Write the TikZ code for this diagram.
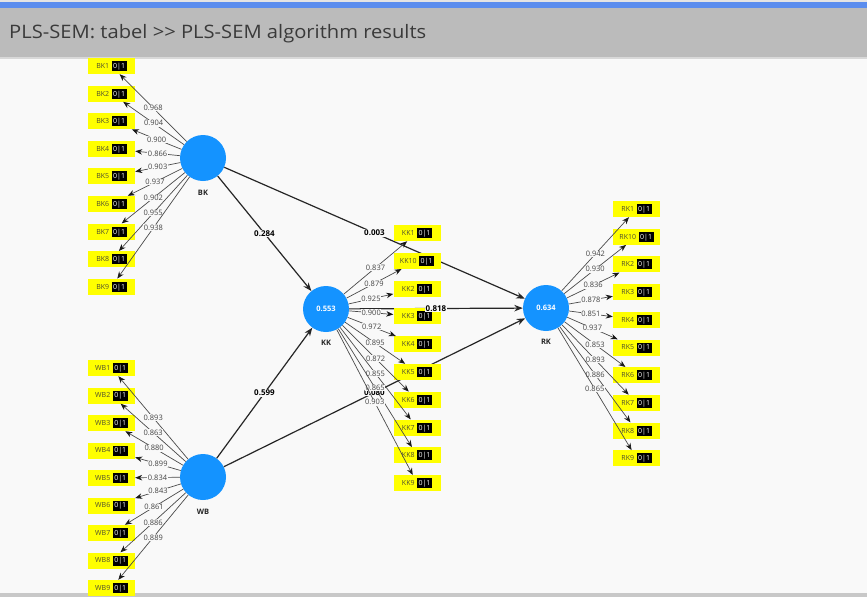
\documentclass[tikz,border=0pt]{standalone}
\usepackage{fontspec}
\setmainfont{Open Sans}
\usetikzlibrary{arrows.meta}

\definecolor{bodybg}{HTML}{F9F9F9}
\definecolor{topstrip}{HTML}{E4E4E4}
\definecolor{bluebar}{HTML}{5B8DEE}
\definecolor{headbg}{HTML}{BBBBBB}
\definecolor{headline}{HTML}{D8D8D8}
\definecolor{footbg}{HTML}{C8C8C8}
\definecolor{titletext}{HTML}{3A3A3A}
\definecolor{lvblue}{HTML}{1493FF}
\definecolor{indyellow}{HTML}{FFFF00}
\definecolor{indtext}{HTML}{505030}
\definecolor{loadgray}{HTML}{4A4A4A}
\definecolor{labgray}{HTML}{444444}

% indicator label: name followed by the black 0|1 tag
\newcommand{\indlab}[1]{\textcolor{indtext}{#1}\hspace{2.5pt}{\setlength{\fboxsep}{0pt}\colorbox{black}{\makebox[15pt]{\rule[-2.6pt]{0pt}{10pt}\textcolor{white}{0|1}}}}}

\begin{document}
\begin{tikzpicture}[x=1pt,y=-1pt,
  lv/.style={circle,fill=lvblue,draw=none,minimum size=46pt,inner sep=0pt,
    text=white,font=\fontsize{7.5}{8}\selectfont\bfseries},
  lvname/.style={font=\fontsize{7.5}{8}\selectfont\bfseries,text=black!85,inner sep=0pt},
  ind/.style={rectangle,fill=indyellow,minimum width=47pt,minimum height=16pt,inner sep=0pt,
    font=\fontsize{7}{8}\selectfont},
  load/.style={draw=loadgray,line width=0.7pt,-{Stealth[length=7pt,width=5.5pt,color=black!90]}},
  lload/.style={font=\fontsize{7.5}{8}\selectfont,text=labgray,fill=bodybg,inner sep=0.6pt},
  pathedge/.style={draw=black!85,line width=1.2pt,-{Stealth[length=8.5pt,width=6.5pt]}},
  plab/.style={font=\fontsize{8}{9}\selectfont\bfseries,text=black,fill=bodybg,inner sep=0.8pt}
]
\useasboundingbox (0,0) rectangle (867,597);

% window frame
\fill[bodybg] (0,0) rectangle (867,597);
\fill[topstrip] (0,0) rectangle (867,2);
\fill[bluebar] (0,2) rectangle (867,7.5);
\fill[headbg] (0,7.5) rectangle (867,57);
\fill[headline] (0,57) rectangle (867,59);
\fill[footbg] (0,593) rectangle (867,597);
\node[anchor=west,inner sep=0pt,text=titletext] (title) at (9,34)
  {\scalebox{1.12}[1.03]{\fontsize{18}{20}\selectfont PLS-SEM: tabel {>}{>} PLS-SEM algorithm results}};

% latent variables
\node[lv] (BK) at (203,158) {};
\node[lv] (WB) at (203,477) {};
\node[lv] (KK) at (326,309) {0.553};
\node[lv] (RK) at (546,308) {0.634};
\node[lvname] (BKn) at (203,193) {BK};
\node[lvname] (WBn) at (203,512) {WB};
\node[lvname] (KKn) at (326,343) {KK};
\node[lvname] (RKn) at (546,342) {RK};

% structural paths
\draw[pathedge] (BK) -- (KK);
\draw[pathedge] (WB) -- (KK);
\draw[pathedge] (BK) -- (RK);
\draw[pathedge] (KK) -- (RK);
\draw[pathedge] (WB) -- (RK);
\path (WB) -- node[plab] (pWR) {0.080} (RK);

% indicator boxes
\foreach \i in {1,...,9}{
  \node[ind] (bk\i) at (111.5,{66+27.6*(\i-1)}) {\indlab{BK\i}};
  \node[ind] (wb\i) at (111.5,{368+27.5*(\i-1)}) {\indlab{WB\i}};
}
\foreach \n [count=\k from 0] in {1,10,2,3,4,5,6,7,8,9}{
  \node[ind] (kk\n) at (417,{233+27.8*\k}) {\indlab{KK\n}};
  \node[ind] (rk\n) at (636.5,{209+27.7*\k}) {\indlab{RK\n}};
}

% outer loadings
\foreach \v [count=\i] in {0.968,0.904,0.900,0.866,0.903,0.937,0.902,0.955,0.938}
  \draw[load] (BK) -- node[lload]{\v} (bk\i);
\foreach \v [count=\i] in {0.893,0.863,0.880,0.899,0.834,0.843,0.861,0.886,0.889}
  \draw[load] (WB) -- node[lload]{\v} (wb\i);
\foreach \n/\v in {1/0.837,10/0.879,2/0.925,3/0.900,4/0.972,5/0.895,6/0.872,7/0.855,8/0.865,9/0.903}
  \draw[load] (KK) -- node[lload]{\v} (kk\n);
\foreach \n/\v in {1/0.942,10/0.930,2/0.836,3/0.878,4/0.851,5/0.937,6/0.853,7/0.893,8/0.886,9/0.865}
  \draw[load] (RK) -- node[lload]{\v} (rk\n);

% path coefficients
\path (BK) -- node[plab] (pBK) {0.284} (KK);
\path (WB) -- node[plab] (pWK) {0.599} (KK);
\path (BK) -- node[plab] (pBR) {0.003} (RK);
\path (KK) -- node[plab] (pKR) {0.818} (RK);
\end{tikzpicture}
\end{document}
